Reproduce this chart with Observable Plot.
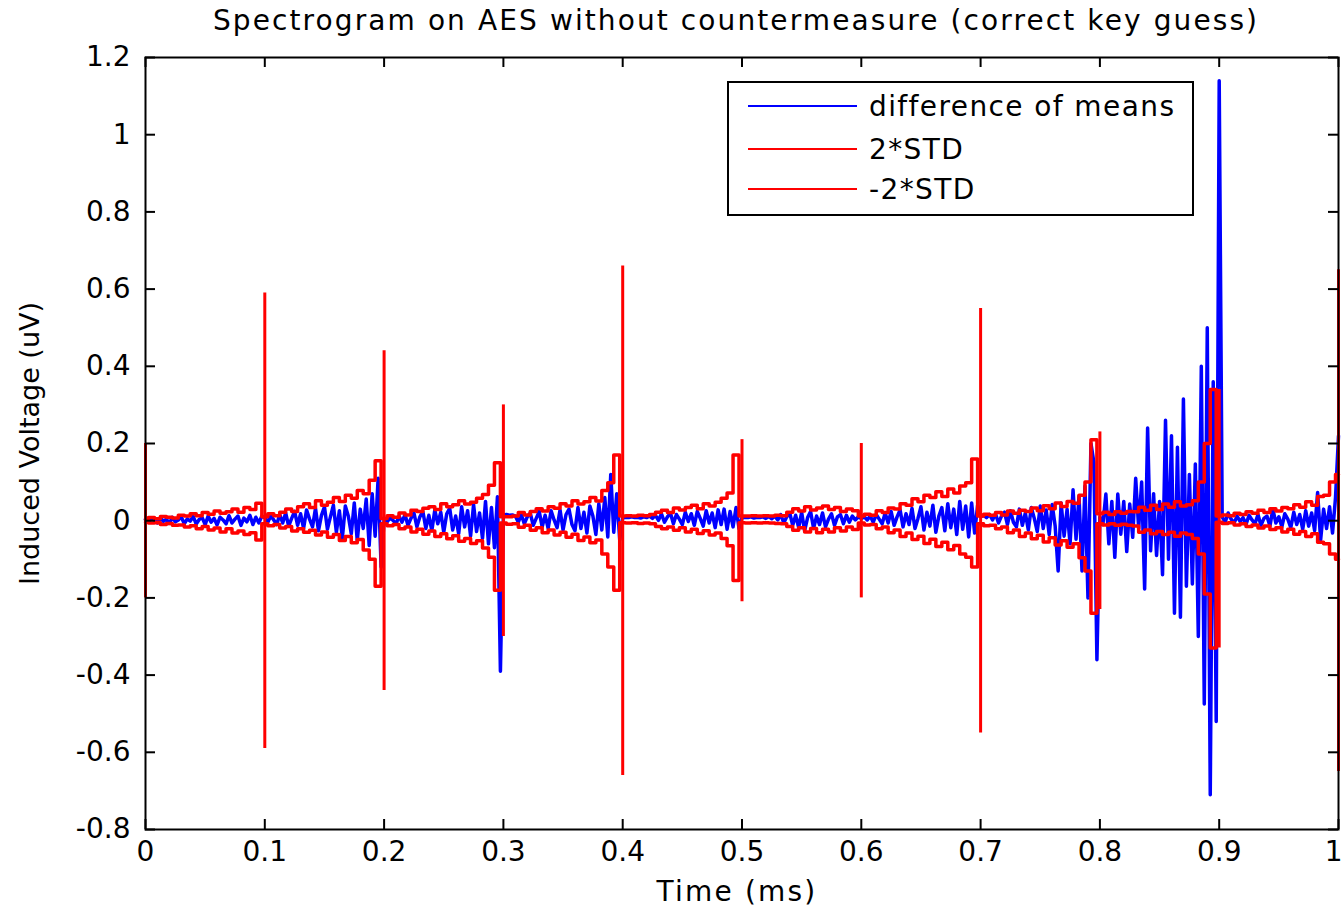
<!DOCTYPE html>
<html><head><meta charset="utf-8">
<script src="https://cdn.jsdelivr.net/npm/d3@7"></script>
<script src="https://cdn.jsdelivr.net/npm/@observablehq/plot@0.6"></script>
<style>
body{margin:0;background:#fff;}
#wrap{position:relative;width:1341px;height:909px;font-family:"DejaVu Sans",sans-serif;}
#legend{position:absolute;left:727px;top:81px;width:463px;height:131px;border:2px solid #000;background:#fff;}
.row{position:absolute;left:0;height:30px;display:flex;align-items:center;font-size:28px;color:#000;white-space:nowrap;letter-spacing:1.4px;}
.row .sw{width:109px;height:2px;margin-left:19px;margin-right:12px;}
.ttl text{letter-spacing:2.1px;}
.xlab text{letter-spacing:2.2px;}
</style></head><body><div id="wrap"></div>
<script>
const title = "Spectrogram on AES without countermeasure (correct key guess)";
const xLabel = "Time (ms)";
const yLabel = "Induced Voltage (uV)";
const seriesNames = ["difference of means", "2*STD", "-2*STD"];
const seriesColors = ["#0000ff", "#ff0000", "#ff0000"];
const xTicks = [0, 0.1, 0.2, 0.3, 0.4, 0.5, 0.6, 0.7, 0.8, 0.9, 1];
const yTicks = [-0.8, -0.6, -0.4, -0.2, 0, 0.2, 0.4, 0.6, 0.8, 1, 1.2];

// difference of means, sampled every 0.0025 ms (0 .. 1 ms)
const diffOfMeans = [
0.003,-0.004,0.006,0.001,-0.006,0.008,-0.002,0.004,-0.007,0.009,
-0.003,0.002,0.010,-0.008,0.005,-0.001,0.011,-0.009,0.003,0.008,
-0.010,0.012,-0.004,0.006,-0.011,0.009,0.002,-0.008,0.013,-0.006,
0.004,0.012,-0.012,0.007,-0.003,0.014,-0.010,0.009,-0.006,0.012,
0.008,-0.004,0.012,0.002,-0.010,0.016,-0.006,0.020,-0.014,0.006,
0.024,-0.012,0.018,-0.020,0.028,0.004,-0.016,0.032,-0.026,0.014,
0.036,-0.022,0.010,0.040,-0.030,0.026,-0.045,0.038,0.012,-0.034,
0.046,-0.052,0.030,-0.020,0.056,-0.064,0.070,-0.040,0.110,-0.120,
0.004,-0.003,0.007,0.001,-0.008,0.012,-0.004,0.016,-0.012,0.006,
0.020,-0.016,0.010,0.024,-0.020,0.014,-0.026,0.028,-0.008,0.022,
-0.030,0.018,0.032,-0.024,0.012,-0.034,0.036,-0.016,0.026,-0.040,
0.042,-0.028,0.020,-0.046,0.050,-0.060,0.034,-0.070,0.062,-0.390,
0.015,0.016,0.014,0.015,0.012,-0.004,0.016,-0.008,0.010,0.020,
-0.012,0.006,0.024,-0.016,0.014,-0.020,0.026,0.002,-0.018,0.028,
-0.024,0.016,0.030,-0.010,-0.026,0.034,-0.020,0.022,-0.032,0.038,
0.012,-0.036,0.044,-0.024,0.060,-0.042,0.120,-0.030,0.070,-0.050,
0.008,0.009,0.008,0.010,0.008,0.009,0.007,0.010,0.008,0.012,
0.006,0.014,0.001,0.018,-0.004,0.010,0.020,-0.008,0.016,0.004,
-0.010,0.022,-0.002,0.018,-0.012,0.024,0.006,-0.014,0.026,-0.006,
0.020,-0.018,0.028,-0.010,0.030,-0.022,0.024,-0.016,0.034,-0.020,
0.008,0.009,0.008,0.010,0.007,0.009,0.008,0.010,0.006,0.011,
0.005,0.012,0.002,0.016,-0.006,0.010,0.020,-0.012,0.014,-0.018,
0.022,-0.026,0.008,0.024,-0.020,0.012,-0.010,0.020,-0.016,0.004,
0.018,-0.012,0.010,0.016,-0.008,0.014,-0.004,0.012,0.002,0.010,
0.006,0.010,0.002,0.012,-0.004,0.016,0.004,-0.008,0.020,-0.006,
0.024,-0.012,0.010,0.028,-0.016,0.018,-0.010,0.032,-0.020,0.006,
0.036,-0.024,0.022,-0.014,0.040,-0.030,0.012,0.034,-0.026,0.044,
-0.018,0.030,-0.036,0.050,-0.022,0.038,-0.042,0.046,-0.032,0.040,
0.010,0.014,0.008,0.016,0.002,0.018,-0.006,0.012,0.022,-0.010,
0.026,-0.004,-0.016,0.030,-0.012,0.020,-0.024,0.034,0.006,-0.028,
0.038,-0.020,0.028,-0.036,0.042,-0.014,-0.130,0.046,-0.040,0.030,
-0.060,0.080,-0.048,0.064,-0.130,0.090,-0.200,0.200,0.150,-0.360,
0.010,-0.010,0.069,-0.060,0.050,-0.095,0.069,-0.035,0.050,-0.080,
0.043,-0.043,0.110,-0.020,0.100,-0.177,0.240,-0.078,0.070,-0.090,
0.050,-0.140,0.260,-0.100,0.220,-0.240,0.190,-0.250,0.315,-0.170,
0.120,-0.164,0.147,-0.300,0.400,-0.475,0.500,-0.710,0.360,-0.520,
1.140,
0.010,-0.004,0.020,0.004,-0.006,0.012,-0.002,0.008,-0.010,0.014,
0.002,-0.008,0.016,-0.012,0.006,0.012,-0.014,0.030,-0.006,0.010,
-0.016,0.018,0.004,-0.018,0.022,-0.010,0.016,-0.022,0.026,-0.014,
0.020,-0.026,0.073,-0.050,0.030,-0.020,0.036,-0.032,0.060,0.220
];

// 2*STD and -2*STD, sampled every 0.005 ms (0 .. 1 ms)
const stdPlus = [
0.004,0.008,0.005,0.011,0.009,0.007,0.014,0.012,0.018,0.013,0.021,0.017,0.025,0.019,0.023,0.030,0.022,0.034,0.029,0.045,
0.010,0.018,0.013,0.022,0.030,0.024,0.036,0.044,0.034,0.052,0.040,0.048,0.060,0.050,0.066,0.058,0.078,0.070,0.105,0.155,
0.006,0.013,0.009,0.020,0.015,0.027,0.024,0.032,0.036,0.029,0.044,0.036,0.041,0.052,0.043,0.048,0.058,0.068,0.092,0.150,
0.010,0.010,0.012,0.021,0.015,0.024,0.031,0.025,0.036,0.032,0.044,0.038,0.052,0.043,0.049,0.060,0.051,0.078,0.098,0.170,
0.012,0.013,0.012,0.014,0.013,0.016,0.022,0.027,0.021,0.033,0.028,0.034,0.040,0.031,0.044,0.038,0.048,0.058,0.072,0.170,
0.012,0.012,0.013,0.012,0.013,0.012,0.014,0.013,0.022,0.031,0.025,0.036,0.028,0.033,0.038,0.029,0.034,0.024,0.030,0.026,
0.012,0.017,0.014,0.026,0.021,0.033,0.030,0.044,0.040,0.057,0.049,0.066,0.060,0.075,0.063,0.082,0.072,0.090,0.098,0.160,
0.012,0.017,0.014,0.021,0.015,0.025,0.019,0.027,0.024,0.033,0.026,0.039,0.031,0.046,0.037,0.050,0.045,0.066,0.100,0.210,
0.018,0.022,0.016,0.023,0.019,0.024,0.023,0.035,0.027,0.040,0.029,0.043,0.035,0.049,0.038,0.041,0.052,0.100,0.200,0.340,
0.012,0.015,0.013,0.019,0.016,0.023,0.019,0.027,0.021,0.031,0.025,0.034,0.031,0.041,0.035,0.049,0.040,0.063,0.066,0.100,
0.120
];
const stdMinus = [
-0.004,-0.006,-0.005,-0.010,-0.007,-0.012,-0.011,-0.016,-0.013,-0.021,-0.015,-0.024,-0.019,-0.029,-0.021,-0.032,-0.027,-0.036,-0.031,-0.050,
-0.008,-0.013,-0.010,-0.019,-0.015,-0.027,-0.021,-0.030,-0.025,-0.037,-0.029,-0.043,-0.036,-0.051,-0.041,-0.057,-0.049,-0.076,-0.100,-0.170,
-0.008,-0.013,-0.010,-0.021,-0.016,-0.029,-0.022,-0.035,-0.027,-0.041,-0.034,-0.047,-0.039,-0.053,-0.046,-0.059,-0.052,-0.071,-0.095,-0.180,
-0.006,-0.009,-0.008,-0.017,-0.012,-0.025,-0.018,-0.031,-0.024,-0.037,-0.030,-0.043,-0.035,-0.051,-0.042,-0.057,-0.050,-0.086,-0.120,-0.180,
-0.005,-0.006,-0.005,-0.007,-0.006,-0.008,-0.015,-0.021,-0.016,-0.025,-0.018,-0.029,-0.022,-0.033,-0.026,-0.037,-0.032,-0.046,-0.065,-0.155,
-0.005,-0.006,-0.005,-0.006,-0.005,-0.006,-0.007,-0.008,-0.015,-0.025,-0.018,-0.029,-0.020,-0.031,-0.022,-0.029,-0.018,-0.027,-0.016,-0.023,
-0.006,-0.011,-0.010,-0.021,-0.016,-0.031,-0.024,-0.041,-0.032,-0.049,-0.040,-0.059,-0.048,-0.067,-0.056,-0.075,-0.064,-0.086,-0.095,-0.120,
-0.008,-0.013,-0.012,-0.021,-0.016,-0.031,-0.024,-0.041,-0.032,-0.047,-0.038,-0.055,-0.044,-0.063,-0.052,-0.069,-0.060,-0.096,-0.130,-0.240,
-0.008,-0.011,-0.008,-0.012,-0.009,-0.012,-0.014,-0.030,-0.024,-0.034,-0.028,-0.036,-0.030,-0.040,-0.032,-0.036,-0.046,-0.086,-0.190,-0.330,
-0.004,-0.007,-0.005,-0.011,-0.008,-0.015,-0.011,-0.019,-0.014,-0.023,-0.018,-0.029,-0.022,-0.035,-0.028,-0.041,-0.034,-0.056,-0.060,-0.086,
-0.100
];

// sharp excursions of the STD curves at each 0.1 ms boundary
const spikeTime = [0, 0.1, 0.2, 0.3, 0.4, 0.5, 0.6, 0.7, 0.8, 0.9, 1.0];
const spikePlus = [0.20, 0.59, 0.44, 0.30, 0.66, 0.21, 0.20, 0.55, 0.23, 0.34, 0.65];
const spikeMinus = [-0.20, -0.59, -0.44, -0.30, -0.66, -0.21, -0.20, -0.55, -0.23, -0.33, -0.65];

const diffData = diffOfMeans.map((v, i) => ({t: i / 400, v}));
const plusData = stdPlus.map((v, i) => ({t: i / 200, v}));
const minusData = stdMinus.map((v, i) => ({t: i / 200, v}));
const spikeData = spikeTime.map((t, i) => ({t, hi: spikePlus[i], lo: spikeMinus[i]}));

const W = 1341, H = 909, mt = 57, mb = 80, ml = 145, mr = 3;
const innerW = W - ml - mr, innerH = H - mt - mb;
const FS = 28;
const fmt = d => String(d);

const chart = Plot.plot({
  width: W, height: H,
  marginTop: mt, marginBottom: mb, marginLeft: ml, marginRight: mr,
  style: {fontFamily: "DejaVu Sans, sans-serif", fontSize: FS + "px", background: "#fff", color: "#000"},
  x: {domain: [0, 1]},
  y: {domain: [-0.8, 1.2]},
  marks: [
    Plot.line(diffData, {x: "t", y: "v", stroke: seriesColors[0], strokeWidth: 3.5}),
    Plot.line(plusData, {x: "t", y: "v", stroke: seriesColors[1], strokeWidth: 3.5, curve: "step"}),
    Plot.line(minusData, {x: "t", y: "v", stroke: seriesColors[2], strokeWidth: 3.5, curve: "step"}),
    Plot.ruleX(spikeData, {x: "t", y1: "lo", y2: "hi", stroke: seriesColors[1], strokeWidth: 3}),
    Plot.frame({stroke: "#000", strokeWidth: 2}),
    Plot.tickX(xTicks, {x: d => d, insetTop: innerH - 10, stroke: "#000", strokeWidth: 2}),
    Plot.tickX(xTicks, {x: d => d, insetBottom: innerH - 10, stroke: "#000", strokeWidth: 2}),
    Plot.tickY(yTicks, {y: d => d, insetRight: innerW - 10, stroke: "#000", strokeWidth: 2}),
    Plot.tickY(yTicks, {y: d => d, insetLeft: innerW - 10, stroke: "#000", strokeWidth: 2}),
    Plot.axisX({ticks: xTicks, tickSize: 0, tickPadding: 12, tickFormat: fmt, label: null, fontSize: FS}),
    Plot.axisY({ticks: yTicks, tickSize: 0, tickPadding: 15, tickFormat: fmt, label: null, fontSize: FS}),
    Plot.text([title], {frameAnchor: "top", dy: -47, dx: -6, fontSize: FS, className: "ttl"}),
    Plot.text([xLabel], {frameAnchor: "bottom", dy: 71, dx: -5, fontSize: FS, className: "xlab"}),
    Plot.text([yLabel], {frameAnchor: "left", dx: -115, rotate: -90, textAnchor: "middle", fontSize: 27})
  ]
});
const wrap = document.getElementById("wrap");
wrap.appendChild(chart);

// keep the last x tick label ("1") inside the picture
const xl = chart.querySelectorAll('g[aria-label="x-axis tick label"] text');
if (xl.length) {
  const last = xl[xl.length - 1];
  last.setAttribute("text-anchor", "end");
  last.setAttribute("dx", "4");
}

const legend = document.createElement("div");
legend.id = "legend";
const rowCenters = [25, 68, 108];
seriesNames.forEach((name, i) => {
  const row = document.createElement("div");
  row.className = "row";
  row.style.top = (rowCenters[i] - 17) + "px";
  const sw = document.createElement("span");
  sw.className = "sw";
  sw.style.background = seriesColors[i];
  const label = document.createElement("span");
  label.textContent = name;
  row.appendChild(sw);
  row.appendChild(label);
  legend.appendChild(row);
});
wrap.appendChild(legend);
</script></body></html>
